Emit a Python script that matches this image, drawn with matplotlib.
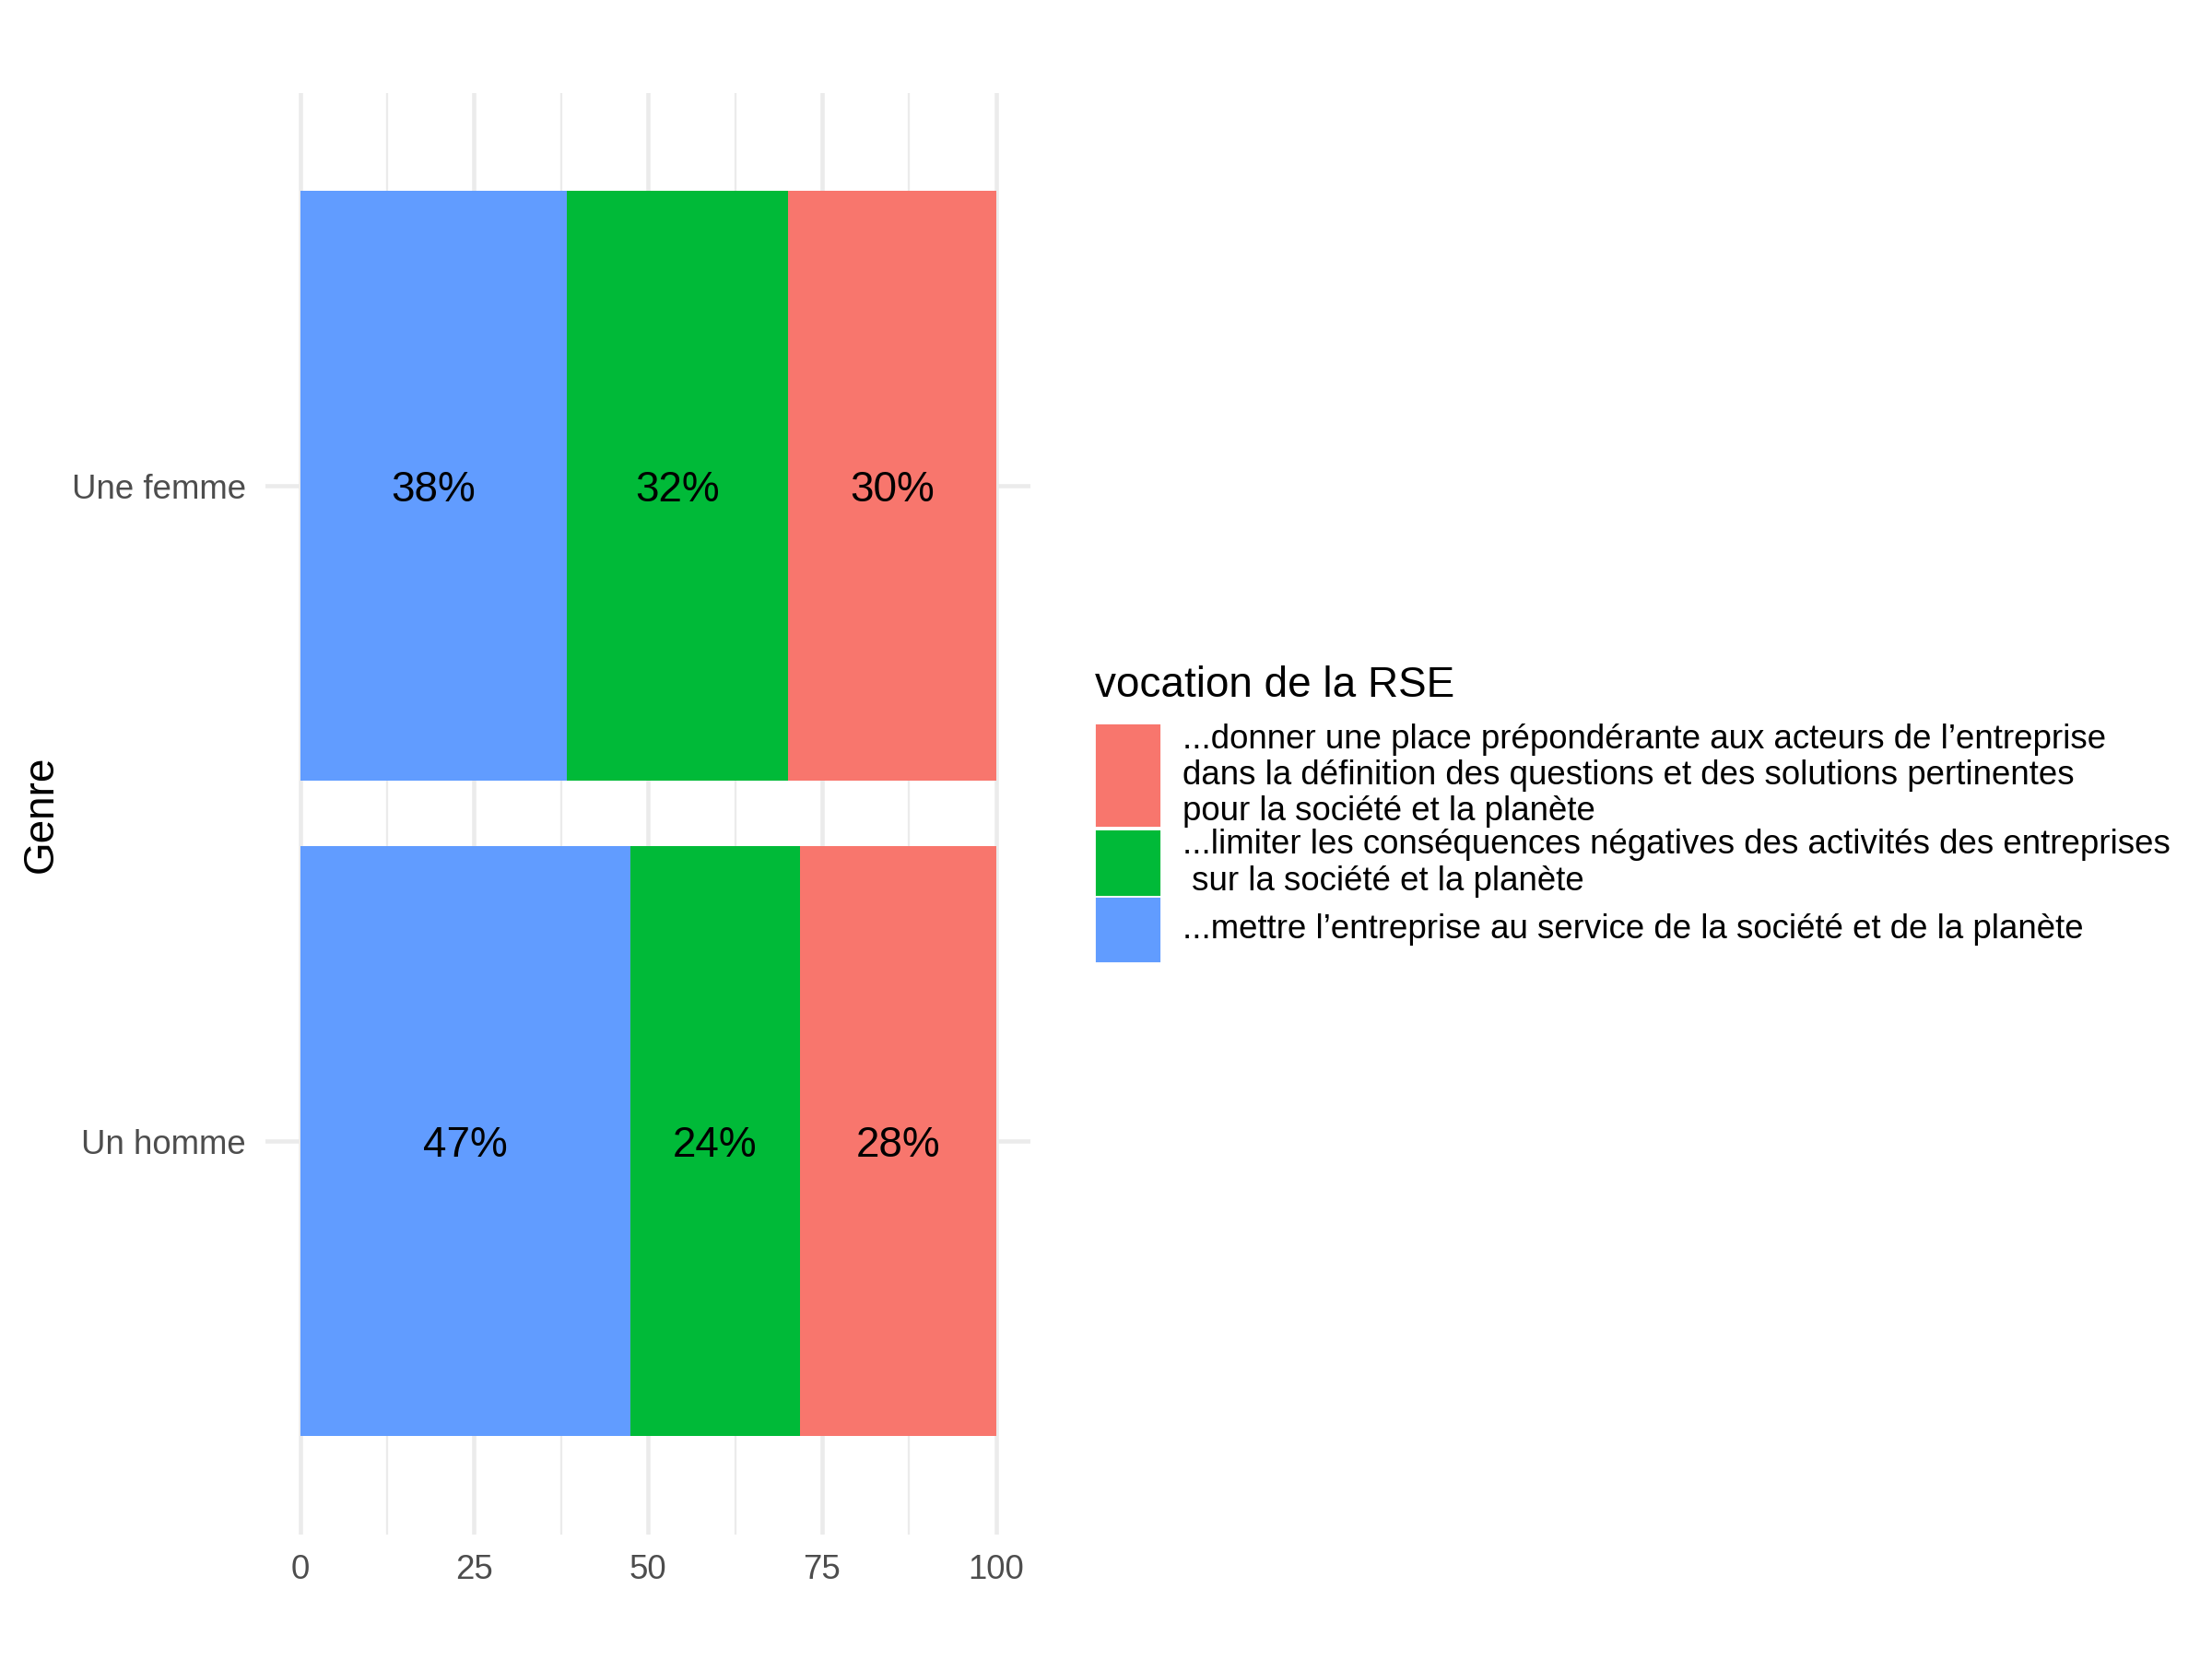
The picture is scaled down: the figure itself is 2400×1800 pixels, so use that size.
import matplotlib
matplotlib.use("Agg")
import matplotlib.pyplot as plt
from matplotlib.patches import Rectangle

plt.rcParams['font.family'] = ['Liberation Sans', 'DejaVu Sans']

# data
genres = ["Un homme", "Une femme"]
mettre = [47.4, 38.3]
limiter = [24.4, 31.8]
donner = [28.2, 29.9]

legend_title = "vocation de la RSE"
legend_labels = [
    "...donner une place prépondérante aux acteurs de l’entreprise\n"
    "dans la définition des questions et des solutions pertinentes\n"
    "pour la société et la planète",
    "...limiter les conséquences négatives des activités des entreprises\n"
    " sur la société et la planète",
    "...mettre l’entreprise au service de la société et de la planète",
]
colors = {"donner": "#F8766D", "limiter": "#00BA38", "mettre": "#619CFF"}

fig = plt.figure(figsize=(8, 6), dpi=300)
ax = fig.add_axes([0.12, 0.075, 0.346, 0.869])

ypos = list(range(len(genres)))
series = [("mettre", mettre), ("limiter", limiter), ("donner", donner)]
left = [0.0] * len(genres)
for key, vals in series:
    ax.barh(ypos, vals, left=left, height=0.9, color=colors[key], zorder=2)
    for y, l, v in zip(ypos, left, vals):
        ax.text(l + v / 2, y, f"{round(v)}%", ha="center", va="center_baseline",
                fontsize=11, color="black", zorder=3)
    left = [a + b for a, b in zip(left, vals)]

ax.set_xlim(-5, 105)
ax.set_ylim(-0.6, 1.6)
ax.set_xticks([0, 25, 50, 75, 100])
ax.set_xticks([12.5, 37.5, 62.5, 87.5], minor=True)
ax.set_yticks(ypos)
ax.set_yticklabels(genres)
ax.grid(True, which="major", color="#EBEBEB", linewidth=1.1, zorder=0)
ax.grid(True, which="minor", axis="x", color="#EBEBEB", linewidth=0.55, zorder=0)
for s in ax.spines.values():
    s.set_visible(False)
ax.tick_params(which="both", length=0, labelsize=8.8, labelcolor="#4D4D4D", pad=5)
ax.set_ylabel("Genre", fontsize=11)
ax.yaxis.set_label_coords(-0.267, 0.5)

# legend drawn by hand (keys of varying height as in ggplot)
W, H = 2400, 1800
fig.text(1188 / W, 1 - 744 / H, legend_title, fontsize=11, ha="left", va="center")
key_boxes = [(788, 895), (903, 970), (976, 1042)]
key_colors = [colors["donner"], colors["limiter"], colors["mettre"]]
for (top, bot), c, lab in zip(key_boxes, key_colors, legend_labels):
    fig.patches.append(Rectangle((1191 / W, 1 - bot / H), 66 / W, (bot - top) / H,
                                 transform=fig.transFigure, color=c))
    fig.text(1283 / W, 1 - (top + bot) / 2 / H, lab, fontsize=8.8, ha="left",
             va="center", linespacing=1.15)

fig.savefig("out.png", dpi=300)
